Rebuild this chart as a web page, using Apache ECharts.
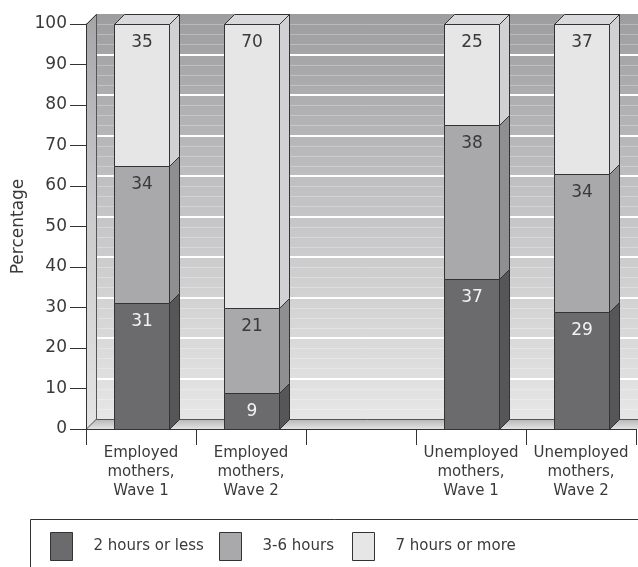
<!DOCTYPE html>
<html><head><meta charset="utf-8">
<script src="https://cdn.jsdelivr.net/npm/echarts@6/dist/echarts.min.js"></script>
<style>html,body{margin:0;padding:0;background:#fff}#c{width:638px;height:567px}</style>
</head><body><div id="c"></div>
<script>
const categories = ['Employed\nmothers,\nWave 1', 'Employed\nmothers,\nWave 2', '', 'Unemployed\nmothers,\nWave 1', 'Unemployed\nmothers,\nWave 2'];
const seriesNames = ['2 hours or less', '3-6 hours', '7 hours or more'];
const lowValues = [31, 9, null, 37, 29];
const midValues = [34, 21, null, 38, 34];
const highValues = [35, 70, null, 25, 37];
const yMin = 0, yMax = 100, yInterval = 10;

const FONT = 'DejaVu Sans';
const D = 10; // depth offset in px
const EDGE = '#333333';
const TEXT = '#3a3a3a';
const palette = [
  {face: '#6b6b6d', side: '#565658', top: '#7a7a7c', text: '#f2f2f2'},
  {face: '#a9a9ab', side: '#8f8f91', top: '#bdbdbf', text: TEXT},
  {face: '#e6e6e7', side: '#d1d1d3', top: '#d9d9db', text: TEXT}
];

const stacks = [lowValues, midValues, highValues];
function buildData(k) {
  const out = [];
  for (let i = 0; i < categories.length; i++) {
    const v = stacks[k][i];
    if (v == null) continue;
    let base = 0;
    for (let j = 0; j < k; j++) base += stacks[j][i] || 0;
    out.push([i, base, v]);
  }
  return out;
}

function barRenderer(k) {
  const c = palette[k];
  const isTop = k === stacks.length - 1;
  return function (params, api) {
    const cat = api.value(0), base = api.value(1), val = api.value(2);
    const p0 = api.coord([cat, base]);
    const p1 = api.coord([cat, base + val]);
    const bw = api.size([1, 0])[0] * 0.5;
    const x0 = Math.round(p0[0] - bw / 2) + 0.5, x1 = Math.round(p0[0] + bw / 2) + 0.5;
    const yb = Math.round(p0[1]) + 0.5, yt = Math.round(p1[1]) + 0.5;
    const children = [
      {type: 'polygon', shape: {points: [[x1, yb], [x1, yt], [x1 + D, yt - D], [x1 + D, yb - D]]},
        style: {fill: c.side, stroke: EDGE, lineWidth: 1}},
      {type: 'rect', shape: {x: x0, y: yt, width: x1 - x0, height: yb - yt},
        style: {fill: c.face, stroke: EDGE, lineWidth: 1}}
    ];
    if (isTop) {
      children.push({type: 'polygon', shape: {points: [[x0, yt], [x1, yt], [x1 + D, yt - D], [x0 + D, yt - D]]},
        style: {fill: c.top, stroke: EDGE, lineWidth: 1}});
    }
    children.push({type: 'text', x: (x0 + x1) / 2, y: yt + 18.5,
      style: {text: String(val), fill: c.text, fontFamily: FONT, fontSize: 17, align: 'center', verticalAlign: 'middle'}});
    return {type: 'group', children: children};
  };
}

function wallRenderer(params, api) {
  const cs = params.coordSys;
  const x = cs.x, y = cs.y, w = cs.width + 4, h = cs.height;
  const yBottom = y + h;
  const wallGrad = new echarts.graphic.LinearGradient(0, 0, 0, 1, [
    {offset: 0, color: '#9d9d9f'}, {offset: 0.45, color: '#c2c2c4'}, {offset: 1, color: '#e6e6e6'}
  ]);
  const leftGrad = new echarts.graphic.LinearGradient(0, 0, 0, 1, [
    {offset: 0, color: '#a6a6a8'}, {offset: 0.45, color: '#c9c9cb'}, {offset: 1, color: '#e4e4e4'}
  ]);
  const floorGrad = new echarts.graphic.LinearGradient(0, 0, 0, 1, [
    {offset: 0, color: '#b4b4b6'}, {offset: 1, color: '#e2e2e2'}
  ]);
  const children = [
    {type: 'rect', shape: {x: x + D, y: y - D, width: w - D, height: h}, style: {fill: wallGrad}}
  ];
  for (let v = yMin; v < yMax; v += yInterval / 4) {
    if (Math.abs(v % yInterval) < 1e-6) continue;
    const yy = Math.round(api.coord([0, v])[1] - D) + 0.5;
    children.push({type: 'line', shape: {x1: x + D, y1: yy, x2: x + w, y2: yy},
      style: {stroke: 'rgba(255,255,255,0.28)', lineWidth: 1}});
  }
  for (let v = yMin + yInterval; v <= yMax - yInterval; v += yInterval) {
    const yy = Math.round(api.coord([0, v])[1] - D);
    children.push({type: 'line', shape: {x1: x + D, y1: yy, x2: x + w, y2: yy},
      style: {stroke: '#ffffff', lineWidth: 2}});
  }
  children.push({type: 'polygon', shape: {points: [[x, y], [x + D, y - D], [x + D, yBottom - D], [x, yBottom]]},
    style: {fill: leftGrad}});
  children.push({type: 'polygon', shape: {points: [[x, yBottom], [x + D, yBottom - D], [x + w, yBottom - D], [x + w, yBottom]]},
    style: {fill: floorGrad}});
  children.push({type: 'polyline', shape: {points: [[x + D + 0.5, y - D], [x + D + 0.5, yBottom - D + 0.5], [x + w, yBottom - D + 0.5]]},
    style: {stroke: '#555', lineWidth: 1, fill: null}});
  children.push({type: 'line', shape: {x1: x + 0.5, y1: y + 0.5, x2: x + D + 0.5, y2: y - D + 0.5},
    style: {stroke: EDGE, lineWidth: 1}});
  children.push({type: 'line', shape: {x1: x + 0.5, y1: yBottom, x2: x + D + 0.5, y2: yBottom - D},
    style: {stroke: '#555', lineWidth: 1}});
  return {type: 'group', children: children};
}

function legendFor(k, left) {
  const c = palette[k];
  return {
    left: left, top: 532, padding: 0, itemWidth: 22, itemHeight: 28, selectedMode: false,
    data: [{name: seriesNames[k], icon: 'rect', itemStyle: {color: c.face, borderColor: EDGE, borderWidth: 1}}],
    textStyle: {fontFamily: FONT, fontSize: 15, color: TEXT, padding: [0, 0, 0, 16]}
  };
}

const chart = echarts.init(document.getElementById('c'), null, {renderer: 'canvas'});
chart.setOption({
  animation: false,
  backgroundColor: '#fff',
  grid: {left: 86, right: 2, top: 24, bottom: 138, containLabel: false, outerBoundsMode: 'none'},
  legend: [legendFor(0, 50), legendFor(1, 219), legendFor(2, 352)],
  graphic: [{type: 'rect', left: 28, top: 517, shape: {width: 640, height: 70},
    style: {fill: null, stroke: EDGE, lineWidth: 1}, silent: true}],
  xAxis: {
    type: 'category', data: categories, z: 10,
    axisLine: {lineStyle: {color: EDGE, width: 1}},
    axisTick: {show: true, length: 16, interval: 0, lineStyle: {color: EDGE}},
    axisLabel: {interval: 0, margin: 15, fontFamily: FONT, fontSize: 15, lineHeight: 19, color: TEXT},
    splitLine: {show: false}
  },
  yAxis: {
    type: 'value', min: yMin, max: yMax, interval: yInterval, z: 10,
    name: 'Percentage', nameLocation: 'middle', nameGap: 59, nameMoveOverlap: false,
    nameTextStyle: {fontFamily: FONT, fontSize: 17, color: TEXT},
    axisLine: {show: true, lineStyle: {color: EDGE, width: 1}},
    axisTick: {show: true, length: 16, lineStyle: {color: EDGE}},
    axisLabel: {margin: 19, fontFamily: FONT, fontSize: 17, color: TEXT},
    splitLine: {show: false}
  },
  series: [
    {type: 'custom', name: '__wall', silent: true, z: 1, data: [[0, 0]], renderItem: wallRenderer, clip: false},
    {type: 'custom', name: seriesNames[0], z: 2, itemStyle: {color: palette[0].face}, data: buildData(0), renderItem: barRenderer(0), clip: false},
    {type: 'custom', name: seriesNames[1], z: 3, itemStyle: {color: palette[1].face}, data: buildData(1), renderItem: barRenderer(1), clip: false},
    {type: 'custom', name: seriesNames[2], z: 4, itemStyle: {color: palette[2].face}, data: buildData(2), renderItem: barRenderer(2), clip: false}
  ]
});
</script>
</body></html>
